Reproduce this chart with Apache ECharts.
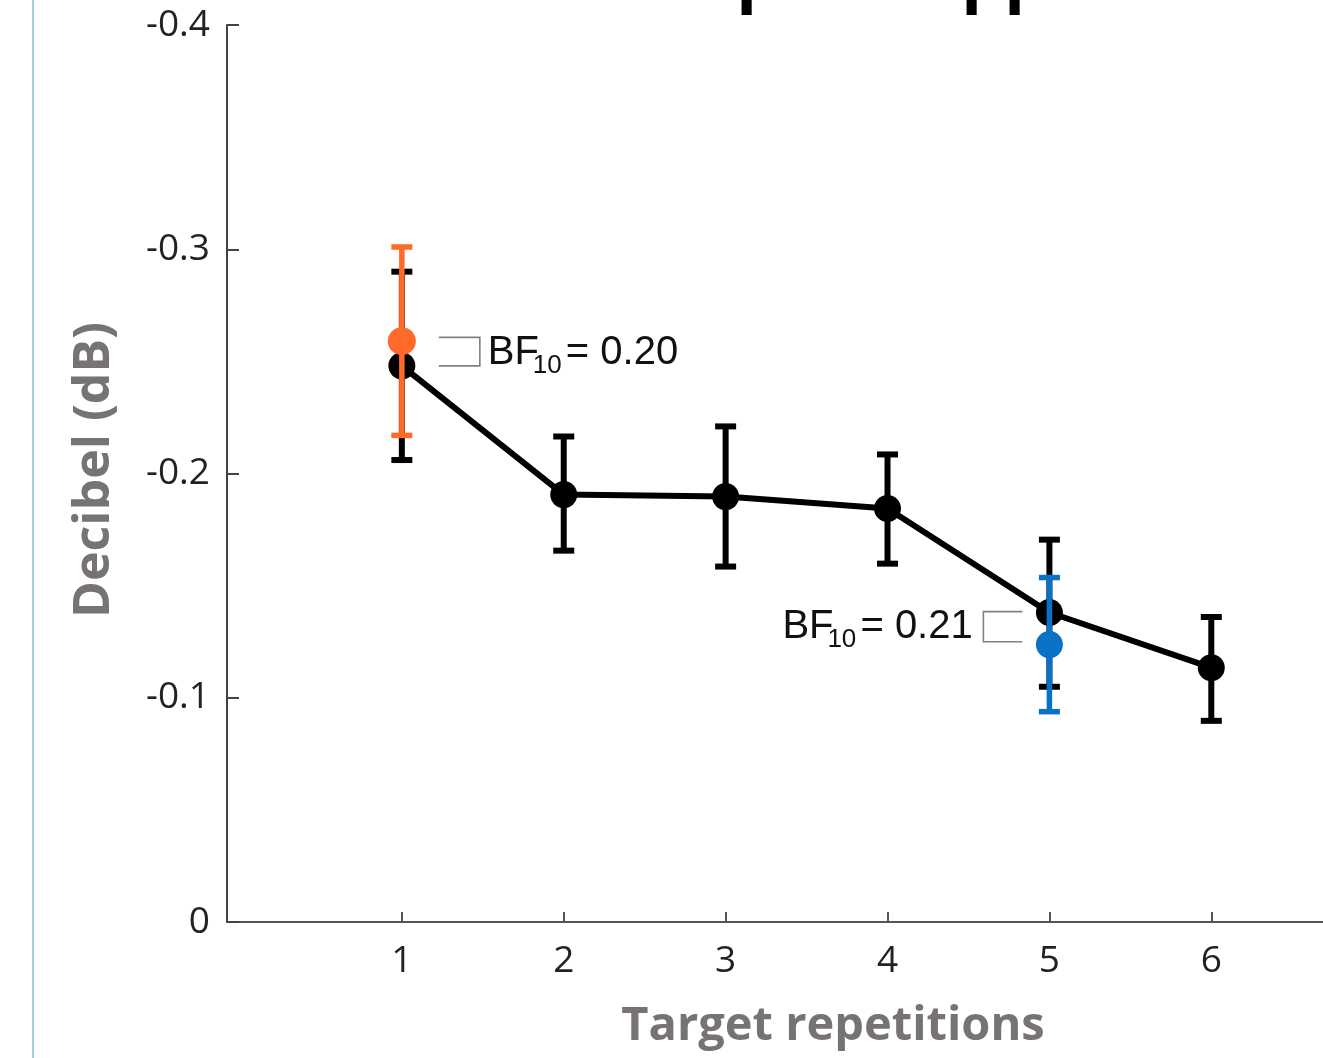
<!DOCTYPE html>
<html>
<head>
<meta charset="utf-8">
<script src="https://cdn.jsdelivr.net/npm/echarts@6/dist/echarts.min.js"></script>
<style>
html, body { margin: 0; padding: 0; background: #fff; }
#main { width: 1323px; height: 1058px; }
</style>
</head>
<body>
<div id="main"></div>
<script>
// target repetitions and the mean / error bar ends (dB, axis is inverted)
const reps = [1, 2, 3, 4, 5, 6];
const meanAll = [-0.248, -0.1906, -0.1897, -0.1844, -0.138, -0.1134];
const lowAll = [-0.206, -0.1656, -0.1585, -0.1598, -0.1049, -0.0897];
const highAll = [-0.290, -0.2165, -0.221, -0.2085, -0.1705, -0.136];

// highlighted conditions
const orangeX = [1];
const orangeMean = [-0.259];
const orangeLow = [-0.217];
const orangeHigh = [-0.301];

const blueX = [5];
const blueMean = [-0.1237];
const blueLow = [-0.0938];
const blueHigh = [-0.1536];

// bayes factor notes
const bfX = [1, 5];
const bfTop = [-0.2607, -0.1384];
const bfBottom = [-0.248, -0.125];
const bfValue = ['0.20', '0.21'];
const bfSide = ['right', 'left'];

const chart = echarts.init(document.getElementById('main'));

function errorBars(xs, lows, highs, color, width, cap, z) {
    return {
        type: 'custom',
        z: z,
        silent: true,
        data: xs.map((x, i) => [x, lows[i], highs[i]]),
        encode: { x: 0, y: [1, 2] },
        renderItem(params, api) {
            const x = api.value(0);
            const a = api.coord([x, api.value(1)]);
            const b = api.coord([x, api.value(2)]);
            const s = { stroke: color, lineWidth: width };
            return {
                type: 'group',
                children: [
                    { type: 'line', shape: { x1: a[0], y1: a[1], x2: b[0], y2: b[1] }, style: s },
                    { type: 'line', shape: { x1: a[0] - cap / 2, y1: a[1], x2: a[0] + cap / 2, y2: a[1] }, style: s },
                    { type: 'line', shape: { x1: b[0] - cap / 2, y1: b[1], x2: b[0] + cap / 2, y2: b[1] }, style: s }
                ]
            };
        }
    };
}

const bfFont = '"Liberation Sans", Arial, sans-serif';

const option = {
    animation: false,
    backgroundColor: '#fff',
    grid: { left: 227, right: 0, top: 25, bottom: 136, containLabel: false },
    xAxis: {
        type: 'value',
        min: -0.08,
        max: 6.69,
        splitLine: { show: false },
        axisLine: { onZero: false, lineStyle: { color: '#555', width: 2 } },
        axisTick: { inside: true, length: 10, lineStyle: { color: '#555', width: 2 }, customValues: reps },
        axisLabel: {
            customValues: reps,
            margin: 21,
            fontSize: 37,
            color: '#222',
            fontFamily: '"Open Sans", sans-serif'
        }
    },
    yAxis: {
        type: 'value',
        inverse: true,
        min: -0.4,
        max: 0,
        interval: 0.1,
        splitLine: { show: false },
        axisLine: { onZero: false, lineStyle: { color: '#444', width: 2 } },
        axisTick: { inside: true, length: 12, lineStyle: { color: '#444', width: 2 } },
        axisLabel: {
            margin: 17,
            fontSize: 37,
            color: '#222',
            fontFamily: '"Open Sans", sans-serif',
            formatter: v => (v === 0 ? '0' : v.toFixed(1))
        }
    },
    graphic: [
        { type: 'line', shape: { x1: 33, y1: 0, x2: 33, y2: 1058 }, style: { stroke: '#a3cdd7', lineWidth: 2 } },
        {
            type: 'text', x: 201, y: -20,
            style: { text: 'Contralateral alpha suppression', font: 'bold 68px "Open Sans", sans-serif', fill: '#000', align: 'left', verticalAlign: 'middle' }
        },
        {
            type: 'text', x: 95, y: 470, rotation: Math.PI / 2,
            style: { text: 'Decibel (dB)', font: 'bold 50px "Open Sans", sans-serif', fill: '#777373', align: 'center', verticalAlign: 'middle' }
        },
        {
            type: 'text', x: 833, y: 1027,
            style: { text: 'Target repetitions', font: 'bold 47px "Open Sans", sans-serif', fill: '#777373', align: 'center', verticalAlign: 'middle' }
        }
    ],
    series: [
        errorBars(reps, lowAll, highAll, '#000', 6, 21, 2),
        {
            type: 'line',
            z: 3,
            data: reps.map((x, i) => [x, meanAll[i]]),
            symbol: 'circle',
            symbolSize: 27,
            itemStyle: { color: '#000' },
            lineStyle: { color: '#000', width: 6 },
            silent: true
        },
        errorBars(orangeX, orangeLow, orangeHigh, '#ff6a2a', 5.5, 21, 4),
        {
            type: 'scatter', z: 5,
            data: orangeX.map((x, i) => [x, orangeMean[i]]),
            symbolSize: 28,
            itemStyle: { color: '#ff6a2a', opacity: 1 },
            silent: true
        },
        errorBars(blueX, blueLow, blueHigh, '#0a72c4', 5.5, 21, 4),
        {
            type: 'scatter', z: 5,
            data: blueX.map((x, i) => [x, blueMean[i]]),
            symbolSize: 27,
            itemStyle: { color: '#0a72c4', opacity: 1 },
            silent: true
        },
        {
            type: 'custom',
            z: 6,
            silent: true,
            data: bfX.map((x, i) => [x, bfTop[i], bfBottom[i], i]),
            encode: { x: 0, y: [1, 2] },
            renderItem(params, api) {
                const i = api.value(3);
                const t = api.coord([api.value(0), api.value(1)]);
                const b = api.coord([api.value(0), api.value(2)]);
                const right = bfSide[i] === 'right';
                const near = right ? t[0] + 78 : t[0] - 66;
                const far = right ? t[0] + 37 : t[0] - 27;
                const pts = [[far, t[1]], [near, t[1]], [near, b[1]], [far, b[1]]];
                const tx = right ? t[0] + 86 : t[0] - 267;
                const base = right ? b[1] + 1 : b[1] - 1;
                const txt = (x, y, s, size) => ({
                    type: 'text', x: x, y: y,
                    style: { text: s, font: size + 'px ' + bfFont, fill: '#111', align: 'left', verticalAlign: 'middle' }
                });
                return {
                    type: 'group',
                    children: [
                        { type: 'polyline', shape: { points: pts }, style: { stroke: '#808080', lineWidth: 1.6, fill: null } },
                        txt(tx, base - 14, 'BF', 40),
                        txt(tx + 45, base - 1, '10', 26),
                        txt(tx + 78, base - 14, '= ' + bfValue[i], 40)
                    ]
                };
            }
        }
    ]
};

chart.setOption(option);
</script>
</body>
</html>
